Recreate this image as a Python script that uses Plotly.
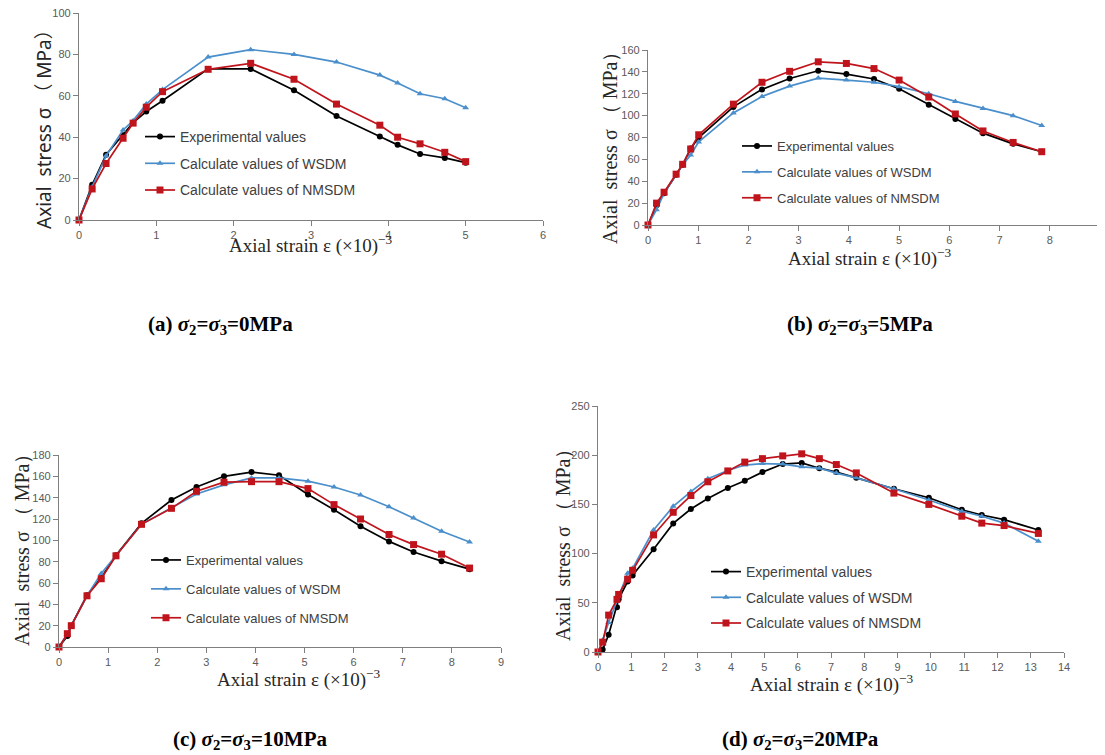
import plotly.graph_objects as go

# ---------------- data ----------------
# (a) sigma2 = sigma3 = 0 MPa
strain_a = [0, 0.17, 0.35, 0.57, 0.70, 0.87, 1.08, 1.67, 2.22, 2.78, 3.33, 3.89, 4.12, 4.41, 4.73, 5.00]
exp_a    = [0, 17, 31.5, 41, 47, 52.4, 57.6, 73, 73, 62.7, 50.2, 40.3, 36.3, 31.9, 30, 27.7]
wsdm_a   = [0, 16, 31, 43.5, 48, 56, 63, 78.7, 82.3, 80, 76.3, 70, 66.2, 61, 58.6, 54.2]
nmsdm_a  = [0, 15, 27.3, 39.5, 46.8, 54.5, 62, 72.8, 75.7, 68, 56, 45.8, 40, 36.8, 32.7, 28.2]

# (b) sigma2 = sigma3 = 5 MPa
strain_b = [0, 0.17, 0.32, 0.56, 0.69, 0.85, 1.01, 1.70, 2.27, 2.82, 3.39, 3.95, 4.50, 5.00, 5.59, 6.12, 6.67, 7.27, 7.84]
exp_b    = [0, 18, 29, 46, 55, 70, 80, 108, 124, 134, 141, 138, 133.5, 124.6, 110, 97, 84, 74.2, 67]
wsdm_b   = [0, 14, 29, 46, 55, 64, 76, 102.5, 117.5, 127, 134.3, 132.5, 130.5, 126.5, 120, 113, 106.5, 100, 91]
nmsdm_b  = [0, 20, 30, 46.5, 55.5, 69.5, 82.5, 110.5, 130.5, 140.5, 149.2, 147.7, 143, 132.5, 117, 101.5, 86, 75.5, 67]

# (c) sigma2 = sigma3 = 10 MPa
strain_c = [0, 0.17, 0.25, 0.57, 0.86, 1.16, 1.68, 2.29, 2.80, 3.36, 3.92, 4.48, 5.07, 5.60, 6.14, 6.72, 7.22, 7.79, 8.36]
exp_c    = [0, 10.3, 20, 48.5, 65, 86, 116, 137.8, 150, 160, 164, 161, 143, 128.7, 113.3, 99, 89, 80.5, 73]
wsdm_c   = [0, 12, 20, 48, 69, 86, 115, 130.5, 143.5, 152, 158.5, 158.5, 155.5, 150, 142.5, 131.5, 121, 108.5, 98.5]
nmsdm_c  = [0, 12.5, 20, 48, 64, 85.5, 115, 130, 146, 154.5, 155, 155, 148.5, 133.5, 120, 105.5, 96, 87, 74]

# (d) sigma2 = sigma3 = 20 MPa
strain_d = [0, 0.14, 0.32, 0.57, 0.62, 0.89, 1.04, 1.67, 2.26, 2.79, 3.30, 3.90, 4.41, 4.94, 5.55, 6.12,
            6.65, 7.16, 7.76, 8.89, 9.94, 10.93, 11.53, 12.20, 13.23]
exp_d    = [0, 2.5, 17.5, 45.6, 53.7, 71.6, 77.7, 104.4, 130.7, 145.3, 156, 166.6, 174, 182.8, 191, 192.2,
            186.8, 182.8, 177, 165.9, 156.8, 144.6, 139.2, 134.5, 124]
wsdm_d   = [0, 12, 30, 52, 58, 80, 85, 124, 148, 163, 176, 184.5, 190, 191.5, 191, 188.2,
            186.8, 181.8, 177, 165.9, 154.5, 143, 138, 131, 112.5]
nmsdm_d  = [0, 10, 37.5, 53.5, 58.5, 74, 83, 119, 142, 159, 173, 184, 193, 196.5, 199.3, 201.4,
            196.5, 190.5, 182, 161.5, 150, 138, 131, 128.5, 120.5]

series_names = ["Experimental values", "Calculate values of WSDM", "Calculate values of NMSDM"]
captions = ["(a) ", "(b) ", "(c) ", "(d) "]
pressures = ["0MPa", "5MPa", "10MPa", "20MPa"]
x_ranges = [[0, 6], [0, 9], [0, 9], [0, 14]]
y_ranges = [[0, 100], [0, 160], [0, 180], [0, 250]]
y_dticks = [20, 20, 20, 50]

# ---------------- layout helpers ----------------
# the page body has an 8px margin, so the figure is drawn 8px in from the window corner
OFF = 8
FW, FH = 1097, 747
def px(x):
    return (x - OFF) / FW
def py(y):
    return 1 - (y - OFF) / FH

# plot boxes in window pixels: (left, right, top, bottom)
boxes = [(79, 543, 13, 220), (648, 1100, 50, 225), (59, 501, 455, 647), (598, 1064, 406, 652)]

panels = [
    (strain_a, exp_a, wsdm_a, nmsdm_a),
    (strain_b, exp_b, wsdm_b, nmsdm_b),
    (strain_c, exp_c, wsdm_c, nmsdm_c),
    (strain_d, exp_d, wsdm_d, nmsdm_d),
]

colors = ["#000000", "#4a8fcb", "#c0141c"]
symbols = ["circle", "triangle-up", "square"]
msizes = [6, 6, 7]

fig = go.Figure()
legend_ids = ["legend", "legend2", "legend3", "legend4"]

for i, (sx, e, w, n) in enumerate(panels):
    xa = "x" if i == 0 else f"x{i+1}"
    ya = "y" if i == 0 else f"y{i+1}"
    for j, vals in enumerate([e, w, n]):
        fig.add_trace(go.Scatter(
            x=sx, y=vals, mode="lines+markers", name=series_names[j],
            xaxis=xa, yaxis=ya, legend=legend_ids[i], legendgroup=f"g{i}_{j}",
            line=dict(color=colors[j], width=1.7),
            marker=dict(symbol=symbols[j], size=msizes[j], color=colors[j]),
            cliponaxis=False, showlegend=True,
        ))

layout = dict(
    width=FW, height=FH, autosize=False,
    margin=dict(l=0, r=0, t=0, b=0, pad=0, autoexpand=False),
    paper_bgcolor="white", plot_bgcolor="white",
    showlegend=True,
)

tick_font = dict(family="Liberation Sans, Arial, sans-serif", size=11, color="#595959")
for i, (l, r, t, b) in enumerate(boxes):
    xk = "xaxis" if i == 0 else f"xaxis{i+1}"
    yk = "yaxis" if i == 0 else f"yaxis{i+1}"
    yanchor = "y" if i == 0 else f"y{i+1}"
    xanchor = "x" if i == 0 else f"x{i+1}"
    layout[xk] = dict(domain=[px(l), px(r)], anchor=yanchor, range=x_ranges[i], dtick=1,
                      showgrid=False, zeroline=False, showline=True, linecolor="#7f7f7f", linewidth=1.2,
                      ticks="outside", ticklen=5, tickcolor="#7f7f7f", tickfont=tick_font,
                      automargin=False, ticklabeloverflow="allow")
    layout[yk] = dict(domain=[py(b), py(t)], anchor=xanchor, range=y_ranges[i], dtick=y_dticks[i],
                      showgrid=False, zeroline=False, showline=True, linecolor="#7f7f7f", linewidth=1.2,
                      ticks="outside", ticklen=5, tickcolor="#7f7f7f", tickfont=tick_font,
                      automargin=False, ticklabeloverflow="allow")

# legends (one per panel): left x, top y, font size, gap between items
legend_pos = [(140, 121, 14, 5.5), (737, 131, 13, 6), (146, 545, 13, 9), (706, 556, 14, 4.5)]
for i, (lx, ly, fs, gap) in enumerate(legend_pos):
    layout[legend_ids[i]] = dict(
        x=px(lx), y=py(ly), xanchor="left", yanchor="top",
        bgcolor="rgba(0,0,0,0)", borderwidth=0,
        font=dict(family="Liberation Sans, Arial, sans-serif", size=fs, color="#404040"),
        traceorder="grouped", tracegroupgap=gap, itemwidth=30,
    )

fig.update_layout(**layout)

# axis titles and captions
annots = []
xt_pos = [(311, 245), (870, 258), (299, 678), (832, 683)]
for (cx, cy) in xt_pos:
    annots.append(dict(x=px(cx), y=py(cy), xref="paper", yref="paper", showarrow=False,
                       xanchor="center", yanchor="middle",
                       text="Axial strain ε (×10)<sup>−3</sup>",
                       font=dict(family="Liberation Serif, Times New Roman, serif", size=19, color="#262626")))

yt = [(44, 125, "Noto Sans, Noto Sans CJK SC, sans-serif", "Axial  stress σ （ MPa）", 19),
      (610, 143, "Liberation Serif, Times New Roman, serif", "Axial  stress σ （ MPa）", 20),
      (22, 545, "Liberation Serif, Times New Roman, serif", "Axial  stress σ （ MPa）", 20),
      (563, 540, "Liberation Serif, Times New Roman, serif", "Axial  stress σ （ MPa）", 20)]
for (cx, cy, fam, txt, fs) in yt:
    annots.append(dict(x=px(cx), y=py(cy), xref="paper", yref="paper", showarrow=False,
                       xanchor="center", yanchor="middle",
                       text=txt, textangle=-90,
                       font=dict(family=fam, size=fs, color="#262626")))

cap_pos = [(220, 325), (860, 325), (250, 740), (800, 740)]
for i, (cx, cy) in enumerate(cap_pos):
    annots.append(dict(x=px(cx), y=py(cy), xref="paper", yref="paper", showarrow=False,
                       xanchor="center", yanchor="middle",
                       text=f"<b>{captions[i]}<i>σ</i><sub>2</sub>=<i>σ</i><sub>3</sub>={pressures[i]}</b>",
                       font=dict(family="Liberation Serif, Times New Roman, serif", size=21, color="#000000")))

fig.update_layout(annotations=annots)

fig.write_html("out.html")
